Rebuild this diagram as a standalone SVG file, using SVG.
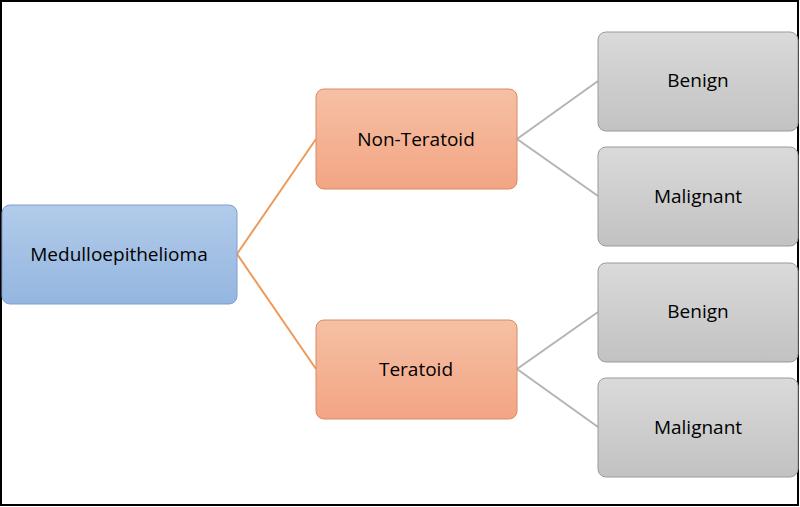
<svg xmlns="http://www.w3.org/2000/svg" width="800" height="507" viewBox="0 0 800 507">
<defs>
<linearGradient id="gb" x1="0" y1="0" x2="0" y2="1"><stop offset="0" stop-color="#b2cbea"/><stop offset="1" stop-color="#94b6e0"/></linearGradient>
<linearGradient id="go" x1="0" y1="0" x2="0" y2="1"><stop offset="0" stop-color="#f6c0a4"/><stop offset="1" stop-color="#f2a584"/></linearGradient>
<linearGradient id="gg" x1="0" y1="0" x2="0" y2="1"><stop offset="0" stop-color="#dadada"/><stop offset="1" stop-color="#c2c2c2"/></linearGradient>
<style>
text{font-family:"Open Sans","Liberation Sans",sans-serif;font-size:19px;fill:#000;text-anchor:middle;dominant-baseline:central}
.b{fill:url(#gb);stroke:#7f9fcf;stroke-width:1}
.o{fill:url(#go);stroke:#d98a66;stroke-width:1}
.g{fill:url(#gg);stroke:#9a9a9a;stroke-width:1}
.lo{stroke:#ed9a5a;stroke-width:2;fill:none}
.lg{stroke:#b4b4b4;stroke-width:2;fill:none}
</style>
</defs>
<rect x="0" y="0" width="800" height="507" fill="#fff"/>
<rect x="1" y="1" width="797" height="504" fill="none" stroke="#000" stroke-width="2"/>
<g id="connectors">
<path class="lo" d="M237 254 L316 139 M237 254 L316 369"/>
<path class="lg" d="M517 139 L598 81 M517 139 L598 196 M517 369 L598 312 M517 369 L598 427"/>
</g>
<g id="root"><rect class="b" x="2" y="205" width="235" height="99" rx="8"/><text x="119" y="254">Medulloepithelioma</text></g>
<g id="nonteratoid"><rect class="o" x="316" y="89" width="201" height="100" rx="8"/><text x="416" y="139">Non-Teratoid</text></g>
<g id="teratoid"><rect class="o" x="316" y="320" width="201" height="99" rx="8"/><text x="416" y="369">Teratoid</text></g>
<g id="benign1"><rect class="g" x="598" y="32" width="200" height="99" rx="8"/><text x="698" y="80">Benign</text></g>
<g id="malignant1"><rect class="g" x="598" y="147" width="200" height="99" rx="8"/><text x="698" y="196">Malignant</text></g>
<g id="benign2"><rect class="g" x="598" y="263" width="200" height="99" rx="8"/><text x="698" y="311">Benign</text></g>
<g id="malignant2"><rect class="g" x="598" y="378" width="200" height="99" rx="8"/><text x="698" y="427">Malignant</text></g>
</svg>
